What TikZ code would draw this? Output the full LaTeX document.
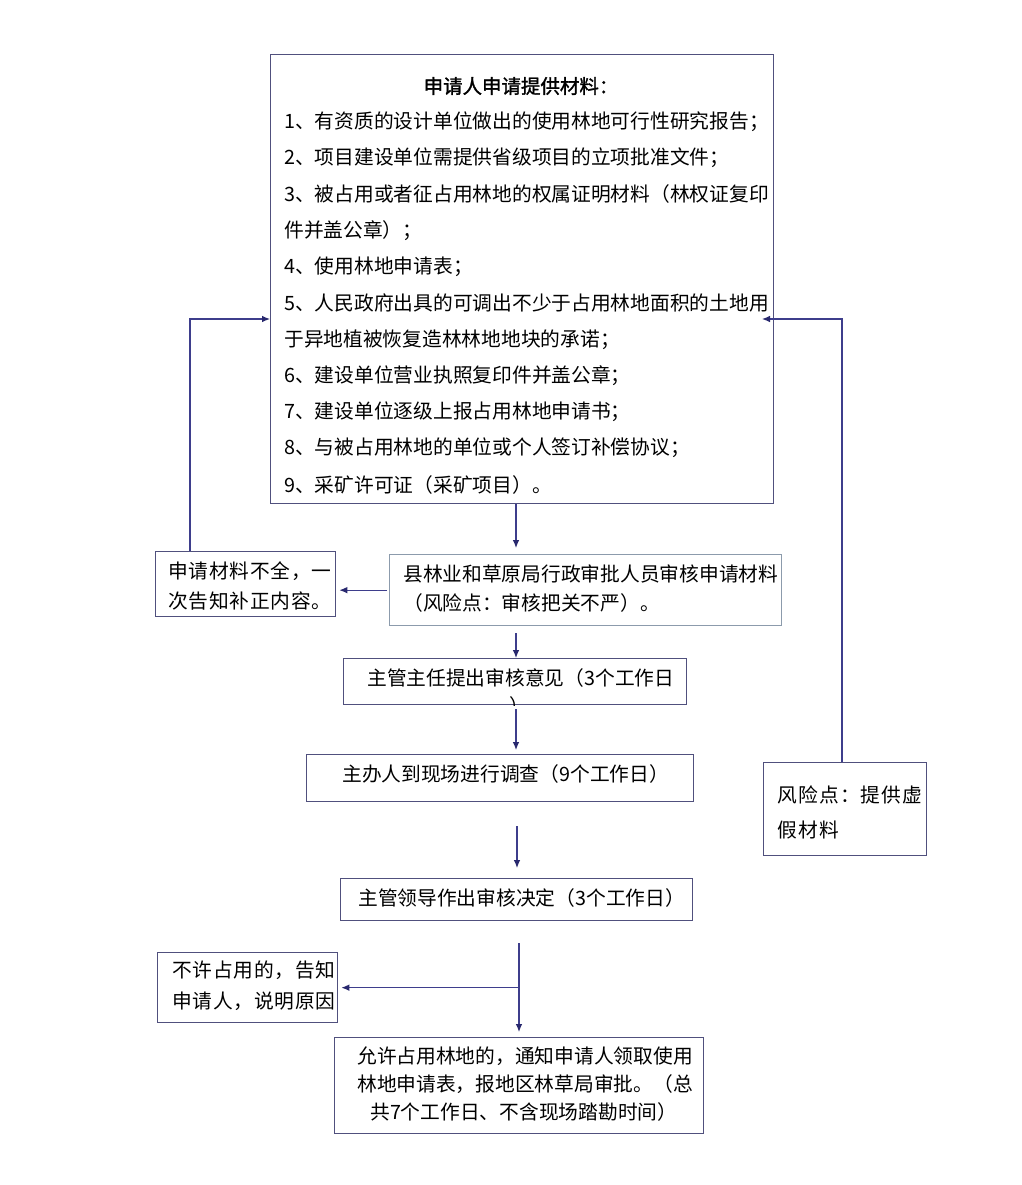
\documentclass[tikz,border=0pt]{standalone}
\usepackage{fontspec}
\usetikzlibrary{arrows.meta}
\newfontfamily\cjk{Noto Sans CJK SC}
\newfontfamily\cjksp{Noto Sans CJK SC}[LetterSpace=4]
\newfontfamily\cjkspw{Noto Sans CJK SC}[LetterSpace=6]
\newfontfamily\cjkb{Noto Sans CJK SC}[FakeBold=1.5]
\definecolor{boxcol}{RGB}{80,80,125}
\definecolor{boxcoltwo}{RGB}{140,155,172}
\definecolor{linecol}{RGB}{62,62,140}
\definecolor{tipcol}{RGB}{40,40,110}
\begin{document}
\begin{tikzpicture}[x=0.75pt,y=-0.75pt,
  rect/.style n args={4}{draw=boxcol, line width=1pt, anchor=north west, inner sep=0pt,
     minimum width={(#3-#1)*0.75pt}, minimum height={(#4-#2)*0.75pt}, at={(#1,#2)}},
  txt/.style={anchor=west, inner sep=0pt, text=black, font=\cjk\fontsize{14.8pt}{18pt}\selectfont},
  txtsp/.style={txt, font=\cjksp\fontsize{14.8pt}{18pt}\selectfont},
  txtspw/.style={txt, font=\cjkspw\fontsize{14.8pt}{18pt}\selectfont},
  arr/.style={draw=linecol, line width=0.9pt, -{Latex[length=6pt,width=5pt,color=tipcol]}}]
\fill[white] (0,0) rectangle (1021,1185);
\useasboundingbox (0,0) rectangle (1021,1185);

% boxes
\node[rect={270}{54}{773}{503}] (main) {};
\node[rect={389}{554}{781}{625}, draw=boxcoltwo] (county) {};
\node[rect={155}{551}{335}{616}] (lack) {};
\node[rect={343}{658}{686}{704}] (zr) {};
\node[rect={306}{754}{693}{801}] (zb) {};
\node[rect={340}{878}{692}{920}] (ld) {};
\node[rect={157}{952}{337}{1022}] (no) {};
\node[rect={334}{1037}{703}{1133}] (yes) {};
\node[rect={763}{762}{926}{855}] (risk) {};

% main box text
\node[inner sep=0pt, text=black, font=\cjkb\fontsize{14.6pt}{18pt}\selectfont] (title) at (521,86) {申请人申请提供材料：};
\node[txt] (m1) at (284,122) {1、有资质的设计单位做出的使用林地可行性研究报告；};
\node[txt] (m2) at (284,158) {2、项目建设单位需提供省级项目的立项批准文件；};
\node[txt] (m3) at (284,194) {3、被占用或者征占用林地的权属证明材料（林权证复印};
\node[txt] (m3b) at (284,231) {件并盖公章）；};
\node[txt] (m4) at (284,267) {4、使用林地申请表；};
\node[txt] (m5) at (284,303) {5、人民政府出具的可调出不少于占用林地面积的土地用};
\node[txt] (m5b) at (284,340) {于异地植被恢复造林林地地块的承诺；};
\node[txt] (m6) at (284,376) {6、建设单位营业执照复印件并盖公章；};
\node[txt] (m7) at (284,412) {7、建设单位逐级上报占用林地申请书；};
\node[txt] (m8) at (284,448) {8、与被占用林地的单位或个人签订补偿协议；};
\node[txt] (m9) at (284,485) {9、采矿许可证（采矿项目）。};

% other texts
\node[txt] (c1) at (403,574) {县林业和草原局行政审批人员审核申请材料};
\node[txt] (c2) at (403,603) {（风险点：审核把关不严）。};
\node[txtsp] (l1) at (168,571) {申请材料不全，一};
\node[txtsp] (l2) at (168,601) {次告知补正内容。};
\node[txt] (z1) at (367,678) {主管主任提出审核意见（3个工作日};
\begin{scope}
\clip (zr.south west) rectangle (zr.north east);
\node[txt, anchor=north west] (zrp) at (509,696) {）};
\end{scope}
\node[txt] (b1) at (342,774) {主办人到现场进行调查（9个工作日）};
\node[txt] (d1) at (358,898) {主管领导作出审核决定（3个工作日）};
\node[txtsp] (n1) at (172,970) {不许占用的，告知};
\node[txtsp] (n2) at (172,1001) {申请人，说明原因};
\node[txt] (y1) at (357,1056) {允许占用林地的，通知申请人领取使用};
\node[txt] (y2) at (357,1084) {林地申请表，报地区林草局审批。（总};
\node[txt] (y3) at (370,1112) {共7个工作日、不含现场踏勘时间）};
\node[txtspw] (r1) at (777,795) {风险点：提供虚};
\node[txtspw] (r2) at (777,830) {假材料};

% connectors
\coordinate (rtip) at (762,319);
\coordinate (br) at (519,0 |- no.east);
\draw[arr, shorten >=4.5pt] (516,0 |- main.south) -- (516,0 |- county.north);
\draw[arr, shorten >=2.25pt, shorten <=1.5pt] (county.west) -- (lack.east |- county.west);
\draw[arr] (190,0 |- lack.north) |- (main.west |- 0,319);
\draw[arr] (842,0 |- risk.north) |- (rtip);
\draw[arr, shorten <=5.25pt] (516,0 |- county.south) -- (516,0 |- zr.north);
\draw[arr, shorten <=3pt, shorten >=3pt] (516,0 |- zr.south) -- (516,0 |- zb.north);
\draw[arr, shorten <=18pt, shorten >=7.5pt] (517,0 |- zb.south) -- (517,0 |- ld.north);
\draw[arr, shorten <=16.5pt, shorten >=3.75pt] (519,0 |- ld.south) -- (519,0 |- yes.north);
\draw[arr, shorten >=2.25pt] (br) -- (no.east);
\end{tikzpicture}
\end{document}
